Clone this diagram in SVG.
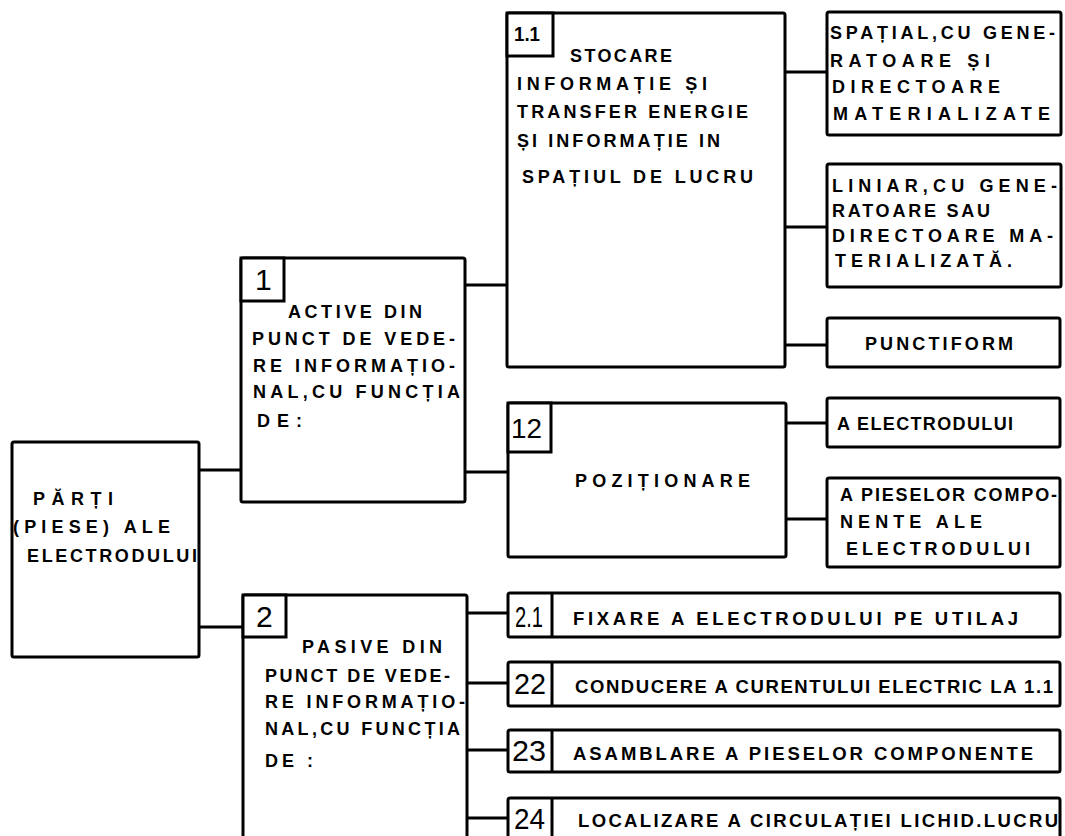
<svg xmlns="http://www.w3.org/2000/svg" width="1065" height="836" viewBox="0 0 1065 836">
<style>
.box{fill:#fff;stroke:#000;stroke-width:3;stroke-linejoin:round}
.lbl{fill:#fff;stroke:#000;stroke-width:3}
.ln{stroke:#000;stroke-width:3;fill:none}
.t{font-family:"Liberation Sans",Arial,sans-serif;font-weight:bold;font-size:18px;fill:#000}
.t2{font-family:"Liberation Sans",Arial,sans-serif;font-weight:bold;font-size:18.5px;fill:#000}
.n{font-family:"Liberation Sans",Arial,sans-serif;font-size:30px;fill:#000}
</style>
<rect x="0" y="0" width="1065" height="836" fill="#fff"/>
<g id="connectors">
<line class="ln" x1="199" y1="470" x2="241" y2="470"/>
<line class="ln" x1="199" y1="627" x2="243" y2="627"/>
<line class="ln" x1="465" y1="285" x2="507" y2="285"/>
<line class="ln" x1="465" y1="472" x2="508" y2="472"/>
<line class="ln" x1="785" y1="72" x2="827" y2="72"/>
<line class="ln" x1="785" y1="227" x2="827" y2="227"/>
<line class="ln" x1="785" y1="345" x2="827" y2="345"/>
<line class="ln" x1="786" y1="423" x2="827" y2="423"/>
<line class="ln" x1="786" y1="519" x2="827" y2="519"/>
<line class="ln" x1="467" y1="613" x2="508" y2="613"/>
<line class="ln" x1="467" y1="683" x2="508" y2="683"/>
<line class="ln" x1="467" y1="750" x2="508" y2="750"/>
<line class="ln" x1="467" y1="818" x2="508" y2="818"/>
</g>
<g id="root">
<rect class="box" x="12" y="442" width="187" height="215" rx="2"/>
<text class="t" x="33" y="505" textLength="80" lengthAdjust="spacing">PĂRȚI</text>
<text class="t" x="13" y="533" textLength="157" lengthAdjust="spacing">(PIESE) ALE</text>
<text class="t" x="27" y="562" textLength="170" lengthAdjust="spacing">ELECTRODULUI</text>
</g>
<g id="n1">
<rect class="box" x="241" y="258" width="224" height="244" rx="2"/>
<rect class="lbl" x="241" y="258" width="43" height="43"/>
<text class="n" x="255" y="290">1</text>
<text class="t" x="288" y="318" textLength="134" lengthAdjust="spacing">ACTIVE DIN</text>
<text class="t" x="252" y="345" textLength="203" lengthAdjust="spacing">PUNCT DE VEDE-</text>
<text class="t" x="253" y="372" textLength="202" lengthAdjust="spacing">RE INFORMAȚIO-</text>
<text class="t" x="253" y="398" textLength="207" lengthAdjust="spacing">NAL,CU FUNCȚIA</text>
<text class="t" x="257" y="427" textLength="45" lengthAdjust="spacing">DE:</text>
</g>
<g id="n2">
<rect class="box" x="243" y="595" width="224" height="260" rx="2"/>
<rect class="lbl" x="243" y="595" width="43" height="42"/>
<text class="n" x="256" y="627">2</text>
<text class="t" x="302" y="653" textLength="140" lengthAdjust="spacing">PASIVE DIN</text>
<text class="t" x="265" y="682" textLength="185" lengthAdjust="spacing">PUNCT DE VEDE-</text>
<text class="t" x="265" y="708" textLength="200" lengthAdjust="spacing">RE INFORMAȚIO-</text>
<text class="t" x="265" y="735" textLength="195" lengthAdjust="spacing">NAL,CU FUNCȚIA</text>
<text class="t" x="265" y="767" textLength="48" lengthAdjust="spacing">DE :</text>
</g>
<g id="n11">
<rect class="box" x="507" y="13" width="278" height="354" rx="2"/>
<rect class="lbl" x="507" y="13" width="46" height="43"/>
<text class="n" x="514" y="41" style="font-size:21px;font-weight:bold" textLength="26" lengthAdjust="spacingAndGlyphs">1.1</text>
<text class="t" x="570" y="62" textLength="102" lengthAdjust="spacing">STOCARE</text>
<text class="t" x="517" y="90" textLength="190" lengthAdjust="spacing">INFORMAȚIE ȘI</text>
<text class="t" x="517" y="118" textLength="231" lengthAdjust="spacing">TRANSFER ENERGIE</text>
<text class="t" x="517" y="147" textLength="203" lengthAdjust="spacing">ȘI INFORMAȚIE IN</text>
<text class="t" x="522" y="183" textLength="231" lengthAdjust="spacing">SPAȚIUL DE LUCRU</text>
</g>
<g id="n12">
<rect class="box" x="508" y="403" width="278" height="154" rx="2"/>
<rect class="lbl" x="508" y="403" width="43" height="49"/>
<text class="n" x="511" y="438" style="font-size:27px" textLength="31" lengthAdjust="spacingAndGlyphs">12</text>
<text class="t" x="575" y="487" textLength="175" lengthAdjust="spacing">POZIȚIONARE</text>
</g>
<g id="n111">
<rect class="box" x="827" y="12" width="234" height="123" rx="2"/>
<text class="t" x="830" y="39" textLength="225" lengthAdjust="spacing">SPAȚIAL,CU GENE-</text>
<text class="t" x="830" y="67" textLength="160" lengthAdjust="spacing">RATOARE ȘI</text>
<text class="t" x="832" y="93" textLength="168" lengthAdjust="spacing">DIRECTOARE</text>
<text class="t" x="833" y="120" textLength="217" lengthAdjust="spacing">MATERIALIZATE</text>
</g>
<g id="n112">
<rect class="box" x="827" y="164" width="234" height="123" rx="2"/>
<text class="t" x="832" y="192" textLength="225" lengthAdjust="spacing">LINIAR,CU GENE-</text>
<text class="t" x="832" y="217" textLength="158" lengthAdjust="spacing">RATOARE SAU</text>
<text class="t" x="832" y="242" textLength="221" lengthAdjust="spacing">DIRECTOARE MA-</text>
<text class="t" x="835" y="267" textLength="177" lengthAdjust="spacing">TERIALIZATĂ.</text>
</g>
<g id="n113">
<rect class="box" x="827" y="318" width="233" height="49" rx="2"/>
<text class="t" x="865" y="350" textLength="148" lengthAdjust="spacing">PUNCTIFORM</text>
</g>
<g id="n121">
<rect class="box" x="827" y="398" width="233" height="49" rx="2"/>
<text class="t" x="837" y="430" textLength="176" lengthAdjust="spacing">A ELECTRODULUI</text>
</g>
<g id="n122">
<rect class="box" x="827" y="478" width="233" height="89" rx="2"/>
<text class="t" x="840" y="501" textLength="217" lengthAdjust="spacing">A PIESELOR COMPO-</text>
<text class="t" x="840" y="528" textLength="142" lengthAdjust="spacing">NENTE ALE</text>
<text class="t" x="846" y="555" textLength="184" lengthAdjust="spacing">ELECTRODULUI</text>
</g>
<g id="n21">
<rect class="box" x="508" y="593" width="552" height="44" rx="2"/>
<line class="ln" x1="552" y1="593" x2="552" y2="637"/>
<text class="n" x="515" y="627" textLength="28" lengthAdjust="spacingAndGlyphs">2.1</text>
<text class="t2" x="573" y="625" textLength="445" lengthAdjust="spacing">FIXARE A ELECTRODULUI PE UTILAJ</text>
</g>
<g id="n22">
<rect class="box" x="508" y="662" width="552" height="44" rx="2"/>
<line class="ln" x1="552" y1="662" x2="552" y2="706"/>
<text class="n" x="514" y="694" textLength="32" lengthAdjust="spacingAndGlyphs">22</text>
<text class="t2" x="575" y="693" textLength="478" lengthAdjust="spacing">CONDUCERE A CURENTULUI ELECTRIC LA 1.1</text>
</g>
<g id="n23">
<rect class="box" x="508" y="730" width="552" height="42" rx="2"/>
<line class="ln" x1="552" y1="730" x2="552" y2="772"/>
<text class="n" x="512" y="761" textLength="34" lengthAdjust="spacingAndGlyphs">23</text>
<text class="t2" x="573" y="760" textLength="460" lengthAdjust="spacing">ASAMBLARE A PIESELOR COMPONENTE</text>
</g>
<g id="n24">
<rect class="box" x="508" y="798" width="552" height="60" rx="2"/>
<line class="ln" x1="552" y1="798" x2="552" y2="858"/>
<text class="n" x="514" y="829" textLength="31" lengthAdjust="spacingAndGlyphs">24</text>
<text class="t2" x="578" y="827" textLength="480" lengthAdjust="spacing">LOCALIZARE A CIRCULAȚIEI LICHID.LUCRU</text>
</g>
</svg>
